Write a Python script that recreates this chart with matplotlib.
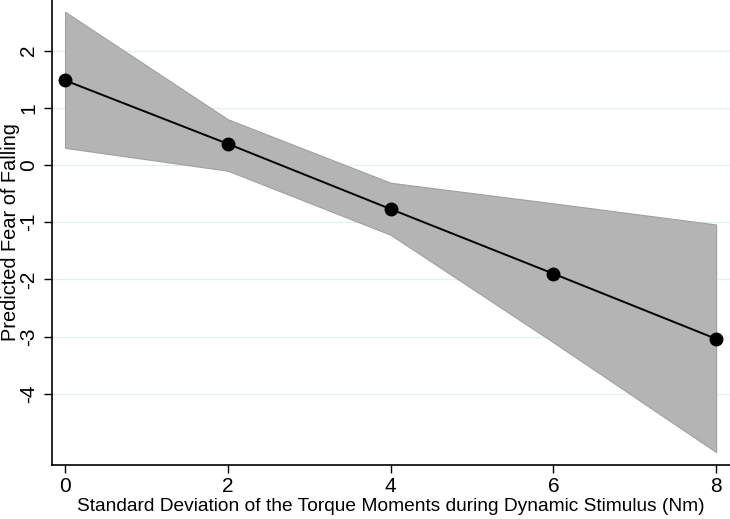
import matplotlib
matplotlib.use("Agg")
import matplotlib.pyplot as plt
import numpy as np

plt.rcParams['font.family'] = ['Liberation Sans', 'DejaVu Sans']

# values
x_vals = [0, 2, 4, 6, 8]
predicted = [1.48, 0.37, -0.77, -1.90, -3.04]
ci_upper = [2.68, 0.80, -0.31, -0.67, -1.04]
ci_lower = [0.30, -0.10, -1.22, -3.10, -5.02]
y_ticks = [-4, -3, -2, -1, 0, 1, 2]
x_ticks = [0, 2, 4, 6, 8]

fig = plt.figure(figsize=(7.3, 5.19), dpi=100)
ax = fig.add_axes([52 / 730, 54 / 519, 1 - 52 / 730, 1 - 54 / 519])

# confidence band
ax.fill_between(x_vals, ci_lower, ci_upper, color='#b4b4b4', edgecolor='#a0a0a0',
                linewidth=0.8, zorder=2)
ax.plot(x_vals, predicted, color='black', linewidth=1.4, marker='o', markersize=9,
        zorder=3)

# faint Stata-style gridlines
for yt in y_ticks:
    ax.axhline(yt, color='#e6eff1', linewidth=0.9, zorder=1)

ax.set_xlim(-0.16, 8.17)
ax.set_ylim(-5.245, 2.885)
ax.set_xticks(x_ticks)
ax.set_yticks(y_ticks)
ax.set_yticklabels([str(t) for t in y_ticks], rotation=90, va='center')
ax.tick_params(axis='both', direction='out', length=6, width=1, labelsize=15,
               color='black')
ax.tick_params(axis='y', pad=4)
ax.tick_params(axis='x', pad=3)

ax.spines[['top', 'right']].set_visible(False)
ax.spines['left'].set_linewidth(1.2)
ax.spines['bottom'].set_linewidth(1.2)

ax.set_xlabel("Standard Deviation of the Torque Moments during Dynamic Stimulus (Nm)",
              fontsize=13.8, labelpad=1)
ax.set_ylabel("Predicted Fear of Falling", fontsize=14.4)
ax.yaxis.set_label_coords(-0.047, 0.5)

fig.savefig("out.png", dpi=100)
